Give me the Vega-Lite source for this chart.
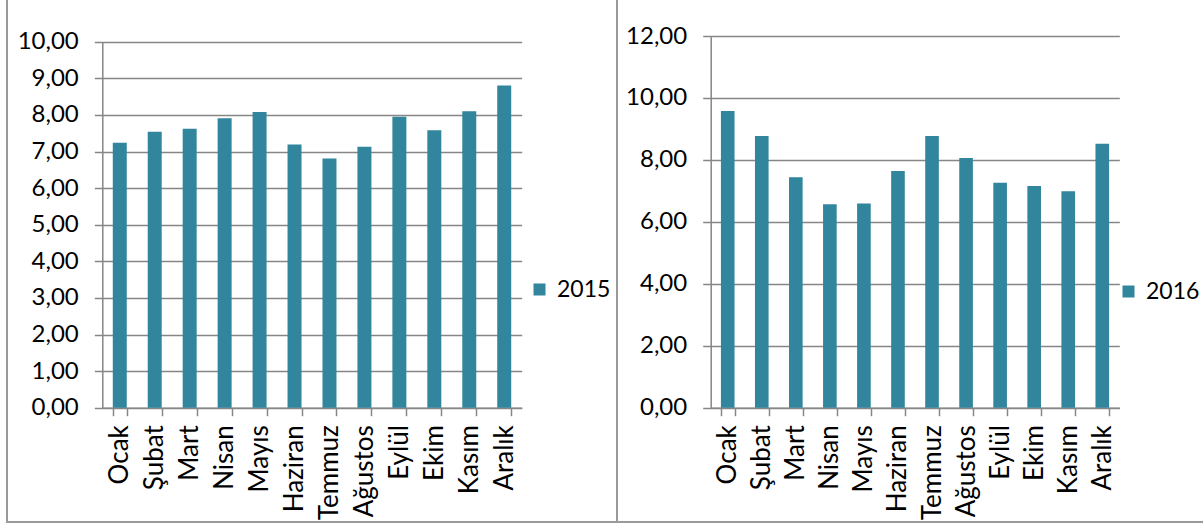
{
  "$schema": "https://vega.github.io/schema/vega-lite/v6.json",
  "padding": {"left": -7, "top": -4, "right": 0, "bottom": 0},
  "spacing": 0,
  "bounds": "flush",
  "background": "#ffffff",
  "resolve": {"scale": {"color": "independent"}, "legend": {"color": "independent"}},
  "config": {
    "font": "Lato",
    "locale": {"number": {"decimal": ",", "thousands": ".", "grouping": [3], "currency": ["", " TL"]}},
    "view": {"stroke": "#9a9a9a", "strokeWidth": 2},
    "axis": {
      "domainColor": "#868686",
      "domainWidth": 1.5,
      "gridColor": "#868686",
      "gridWidth": 1.5,
      "tickColor": "#868686",
      "tickWidth": 1.5,
      "tickSize": 8,
      "labelColor": "#000000",
      "labelFont": "Lato",
      "labelFontSize": 24,
      "title": null
    },
    "legend": {
      "labelFont": "Lato",
      "labelFontSize": 23,
      "labelColor": "#000000",
      "symbolType": "square",
      "symbolSize": 144,
      "symbolStrokeWidth": 0,
      "labelOffset": 6
    }
  },
  "datasets": {
    "y2015": [
      {"ay": "Ocak", "deger": 7.24},
      {"ay": "Şubat", "deger": 7.54},
      {"ay": "Mart", "deger": 7.62},
      {"ay": "Nisan", "deger": 7.91},
      {"ay": "Mayıs", "deger": 8.08},
      {"ay": "Haziran", "deger": 7.19},
      {"ay": "Temmuz", "deger": 6.81},
      {"ay": "Ağustos", "deger": 7.13},
      {"ay": "Eylül", "deger": 7.95},
      {"ay": "Ekim", "deger": 7.58},
      {"ay": "Kasım", "deger": 8.10},
      {"ay": "Aralık", "deger": 8.80}
    ],
    "y2016": [
      {"ay": "Ocak", "deger": 9.58},
      {"ay": "Şubat", "deger": 8.77},
      {"ay": "Mart", "deger": 7.44},
      {"ay": "Nisan", "deger": 6.57},
      {"ay": "Mayıs", "deger": 6.59},
      {"ay": "Haziran", "deger": 7.64},
      {"ay": "Temmuz", "deger": 8.77},
      {"ay": "Ağustos", "deger": 8.06},
      {"ay": "Eylül", "deger": 7.26},
      {"ay": "Ekim", "deger": 7.16},
      {"ay": "Kasım", "deger": 6.99},
      {"ay": "Aralık", "deger": 8.52}
    ]
  },
  "hconcat": [
    {
      "width": 610,
      "height": 525,
      "data": {"name": "y2015"},
      "mark": {"type": "bar", "color": "#31859C"},
      "encoding": {
        "x": {
          "field": "ay",
          "type": "nominal",
          "sort": null,
          "scale": {"range": [95.3, 514.7], "paddingInner": 0.6, "paddingOuter": 0.3},
          "axis": {"labelAngle": -90, "labelAlign": "right", "labelBaseline": "middle", "labelPadding": 9, "labelFontSize": 26, "tickBand": "extent", "offset": -114.3, "grid": false}
        },
        "y": {
          "field": "deger",
          "type": "quantitative",
          "scale": {"domain": [0, 10], "range": [410.7, 44.7], "nice": false},
          "axis": {"values": [0, 1, 2, 3, 4, 5, 6, 7, 8, 9, 10], "format": ".2f", "labelPadding": 16, "offset": -95.3, "grid": true}
        },
        "color": {
          "datum": "2015",
          "scale": {"range": ["#31859C"]},
          "legend": {"title": null, "orient": "none", "legendX": 521, "legendY": 281}
        }
      }
    },
    {
      "width": 588,
      "height": 525,
      "data": {"name": "y2016"},
      "mark": {"type": "bar", "color": "#31859C"},
      "encoding": {
        "x": {
          "field": "ay",
          "type": "nominal",
          "sort": null,
          "scale": {"range": [93.7, 502.3], "paddingInner": 0.6, "paddingOuter": 0.3},
          "axis": {"labelAngle": -90, "labelAlign": "right", "labelBaseline": "middle", "labelPadding": 9, "labelFontSize": 26, "tickBand": "extent", "offset": -114.3, "grid": false}
        },
        "y": {
          "field": "deger",
          "type": "quantitative",
          "scale": {"domain": [0, 12], "range": [410.7, 39], "nice": false},
          "axis": {"values": [0, 2, 4, 6, 8, 10, 12], "format": ".2f", "labelPadding": 16, "offset": -93.7, "grid": true}
        },
        "color": {
          "datum": "2016",
          "scale": {"range": ["#31859C"]},
          "legend": {"title": null, "orient": "none", "legendX": 500, "legendY": 283}
        }
      }
    }
  ]
}
